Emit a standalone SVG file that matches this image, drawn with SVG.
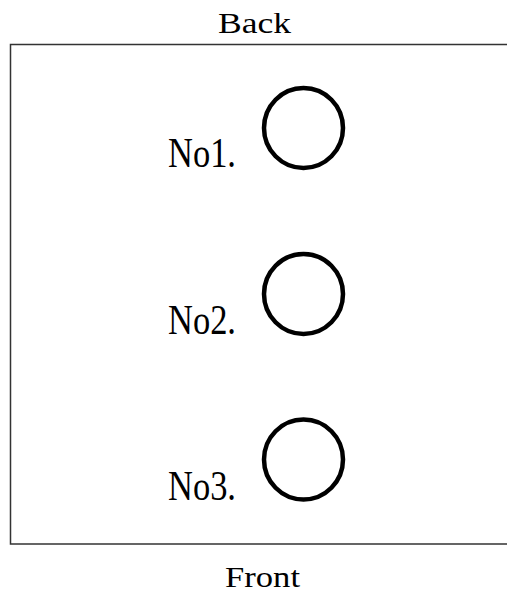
<svg xmlns="http://www.w3.org/2000/svg" width="507" height="593" viewBox="0 0 507 593">
<style>
.lbl{font-family:"Liberation Serif",serif;font-size:43px;fill:#000}
.side{font-family:"Liberation Serif",serif;font-size:30px;fill:#000}
.ring{fill:none;stroke:#000;stroke-width:4.5}
</style>
<rect width="507" height="593" fill="#fff"/>
<path d="M520 44.5 H10.5 V544 H520" fill="none" stroke="#333" stroke-width="1.5"/>
<text class="side" x="218" y="33" textLength="73" lengthAdjust="spacingAndGlyphs">Back</text>
<text class="side" x="225" y="587" textLength="75" lengthAdjust="spacingAndGlyphs">Front</text>
<g id="no1">
<text class="lbl" x="168" y="167" textLength="68" lengthAdjust="spacingAndGlyphs">No1.</text>
<ellipse class="ring" cx="303.5" cy="128" rx="39.5" ry="40"/>
</g>
<g id="no2">
<text class="lbl" x="168" y="334" textLength="68" lengthAdjust="spacingAndGlyphs">No2.</text>
<ellipse class="ring" cx="303.5" cy="294" rx="39.5" ry="40"/>
</g>
<g id="no3">
<text class="lbl" x="168" y="500" textLength="68" lengthAdjust="spacingAndGlyphs">No3.</text>
<ellipse class="ring" cx="303.5" cy="459.5" rx="39.5" ry="40"/>
</g>
<g id="connectors"/>
</svg>
